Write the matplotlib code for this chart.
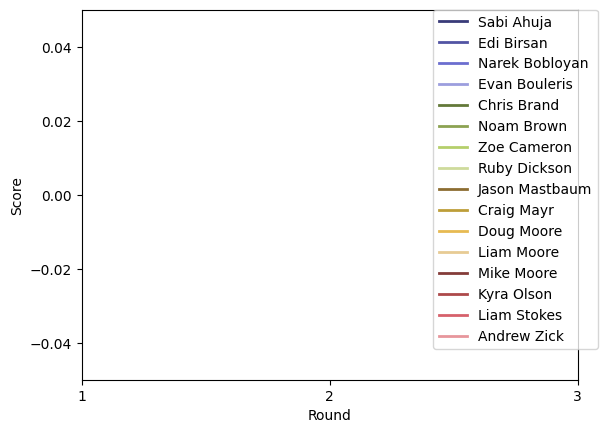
import matplotlib
matplotlib.use("Agg")
import matplotlib.pyplot as plt

# players, in legend order
players = ["Sabi Ahuja", "Edi Birsan", "Narek Bobloyan", "Evan Bouleris",
           "Chris Brand", "Noam Brown", "Zoe Cameron", "Ruby Dickson",
           "Jason Mastbaum", "Craig Mayr", "Doug Moore", "Liam Moore",
           "Mike Moore", "Kyra Olson", "Liam Stokes", "Andrew Zick"]
rounds = [1, 2, 3]
# no scores recorded yet
scores = {p: [] for p in players}

cmap = plt.get_cmap("tab20b")

fig, ax = plt.subplots(figsize=(6.4, 4.8), dpi=100)
for i, p in enumerate(players):
    ax.plot(rounds[:len(scores[p])], scores[p], color=cmap(i), linewidth=2, label=p)

ax.set_xlim(rounds[0], rounds[-1])
ax.set_xticks(rounds)
ax.set_ylim(-0.05, 0.05)
ax.set_xlabel("Round")
ax.set_ylabel("Score")
ax.legend(loc="upper right", bbox_to_anchor=(1.055, 1.02))

fig.savefig("out.png", bbox_inches="tight")
